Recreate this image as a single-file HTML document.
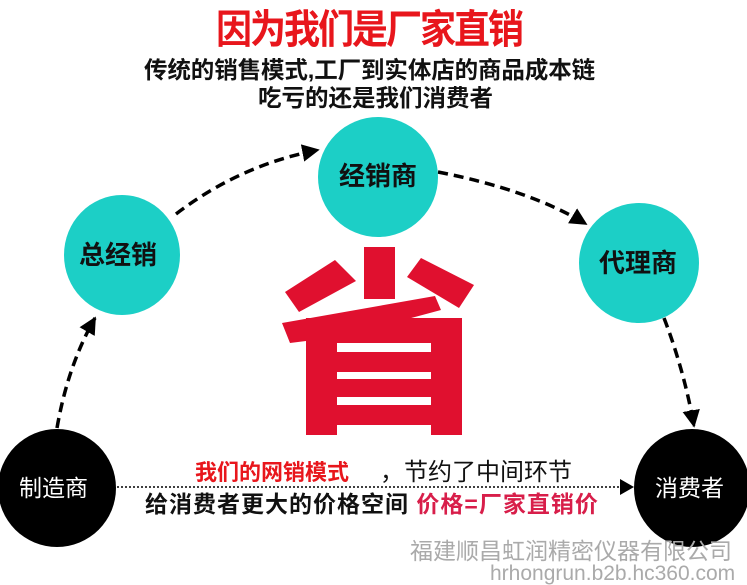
<!DOCTYPE html>
<html><head><meta charset="utf-8"><style>
html,body{margin:0;padding:0;background:#fff}
body{width:747px;height:585px;position:relative;overflow:hidden;font-family:"Liberation Sans","Noto Sans CJK SC",sans-serif}
.t{position:absolute;white-space:nowrap;line-height:1}
</style></head><body>
<svg width="747" height="585" style="position:absolute;left:0;top:0">
<defs><marker id="a" viewBox="0 0 10 10" refX="9" refY="5" markerWidth="5" markerHeight="5" orient="auto"><path d="M0,0L10,5L0,10z" fill="#000"/></marker></defs>
<g fill="none" stroke="#000" stroke-width="3.5" stroke-dasharray="10,6">
<path d="M57,428 Q68,365 95,318" marker-end="url(#a)"/>
<path d="M176,214 Q240,165 318,150" marker-end="url(#a)"/>
<path d="M438,172 Q530,190 586,224" marker-end="url(#a)"/>
<path d="M664,318 Q684,370 694,426" marker-end="url(#a)"/>
</g>
<line x1="117" y1="487" x2="622" y2="487" stroke="#000" stroke-width="1.5" stroke-dasharray="2,2"/>
<path d="M620,479 L634,487 L620,495z" fill="#000"/>
<ellipse cx="122" cy="255" rx="58" ry="60" fill="#1ccfc6"/>
<ellipse cx="378" cy="177" rx="60" ry="60" fill="#1ccfc6"/>
<ellipse cx="639" cy="263" rx="60" ry="60" fill="#1ccfc6"/>
<ellipse cx="57" cy="488" rx="59" ry="59" fill="#000"/>
<ellipse cx="692" cy="488" rx="58" ry="59" fill="#000"/>
<g fill="#e0102f">
<rect x="364" y="247" width="31" height="52"/>
<polygon points="285,292 335,260 356,281 299,312"/>
<polygon points="407,277 421,258 474,285 459,308"/>
<polygon points="282,323 435,296 441,310 400,321 306,341 290,343"/>
<rect x="306" y="318" width="156" height="117"/>
</g>
<g fill="#fff">
<rect x="337" y="343" width="94" height="9"/>
<rect x="337" y="372" width="94" height="7"/>
<rect x="337" y="397" width="94" height="8"/>
<rect x="337" y="425" width="94" height="10"/>
</g>
</svg>
<div class="t" style="left:216px;top:12px;font-size:36px;font-weight:bold;color:#e8161c;letter-spacing:-2px;transform:scaleY(1.1)">因为我们是厂家直销</div>
<div class="t" style="left:144px;top:59px;font-size:23.5px;font-weight:bold;color:#111;letter-spacing:-0.1px">传统的销售模式,工厂到实体店的商品成本链</div>
<div class="t" style="left:258px;top:87px;font-size:23.5px;font-weight:bold;color:#111">吃亏的还是我们消费者</div>
<div class="t" style="left:79px;top:242px;font-size:26px;font-weight:bold;color:#111">总经销</div>
<div class="t" style="left:339px;top:163px;font-size:26px;font-weight:bold;color:#111">经销商</div>
<div class="t" style="left:599px;top:250px;font-size:26px;font-weight:bold;color:#111">代理商</div>
<div class="t" style="left:19px;top:477px;font-size:23px;color:#fff">制造商</div>
<div class="t" style="left:655px;top:477px;font-size:23px;color:#fff">消费者</div>
<div class="t" style="left:195px;top:462px;font-size:22px;font-weight:bold;color:#e8161c">我们的网销模式</div>
<div class="t" style="left:380px;top:461px;font-size:24px;color:#111">，节约了中间环节</div>
<div class="t" style="left:145px;top:493px;font-size:23px;font-weight:bold;color:#111;letter-spacing:1px">给消费者更大的价格空间 <span style="color:#d81e4a">价格=厂家直销价</span></div>
<div class="t" style="left:410px;top:540px;font-size:23px;color:#aaa">福建顺昌虹润精密仪器有限公司</div>
<div class="t" style="left:490px;top:563px;font-size:21px;color:#aaa">hrhongrun.b2b.hc360.com</div>
</body></html>
